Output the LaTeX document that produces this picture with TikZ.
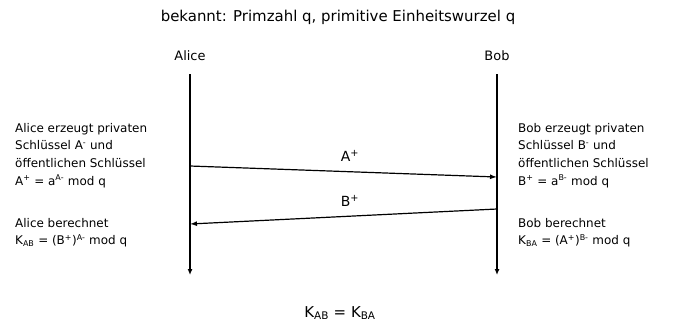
\documentclass[tikz,border=0pt]{standalone}
\usepackage{fontspec}
\setmainfont{DejaVu Sans}
\usetikzlibrary{arrows.meta,positioning}

\begin{document}
\begin{tikzpicture}[x=1bp, y=-1bp,
  txt/.style={font=\fontsize{13}{17.7}\selectfont, inner sep=0pt},
  note/.style={txt, font=\fontsize{12}{17.7}\selectfont, align=left, anchor=north west},
  life/.style={-{Latex[length=6pt,width=5pt]}, line width=1.2bp},
  msg/.style={-{Latex[length=7pt,width=5pt]}, line width=1.2bp}
]
\useasboundingbox (0,0) rectangle (676,329);

\node[txt, font=\fontsize{15}{18}\selectfont] (title) at (338,17) {bekannt: Primzahl q, primitive Einheitswurzel q};
\node[txt] (alice) at (190,56) {Alice};
\node[txt] (bob) at (497,56) {Bob};

% lifelines
\coordinate (aliceTop) at (190,74);
\coordinate (aliceEnd) at (190,275);
\coordinate (bobTop) at (497,74);
\coordinate (bobEnd) at (497,275);
\draw[life] (aliceTop) -- (aliceEnd);
\draw[life] (bobTop) -- (bobEnd);

% messages
\coordinate (sendA) at (190,166);
\coordinate (recvA) at (497,177);
\coordinate (sendB) at (497,209);
\coordinate (recvB) at (190,224);
\draw[msg] (sendA) -- (recvA);
\draw[msg] (sendB) -- (recvB);
\node[txt, font=\fontsize{14}{17}\selectfont] (labelA) at (350,156) {A\textsuperscript{+}};
\node[txt, font=\fontsize{14}{17}\selectfont] (labelB) at (350,201) {B\textsuperscript{+}};

% what each side does
\node[note] (aliceGen) at (15,123) {Alice erzeugt privaten\\Schlüssel A\textsuperscript{-} und\\öffentlichen Schlüssel\\A\textsuperscript{+} = a\textsuperscript{A-} mod q};
\node[note] (aliceKey) at (15,218) {Alice berechnet\\K\textsubscript{AB} = (B\textsuperscript{+})\textsuperscript{A-} mod q};
\node[note] (bobGen) at (518,123) {Bob erzeugt privaten\\Schlüssel B\textsuperscript{-} und\\öffentlichen Schlüssel\\B\textsuperscript{+} = a\textsuperscript{B-} mod q};
\node[note] (bobKey) at (518,218) {Bob berechnet\\K\textsubscript{BA} = (A\textsuperscript{+})\textsuperscript{B-} mod q};

\node[txt, font=\fontsize{15}{18}\selectfont] (result) at (340,313) {K\textsubscript{AB} = K\textsubscript{BA}};
\end{tikzpicture}
\end{document}
